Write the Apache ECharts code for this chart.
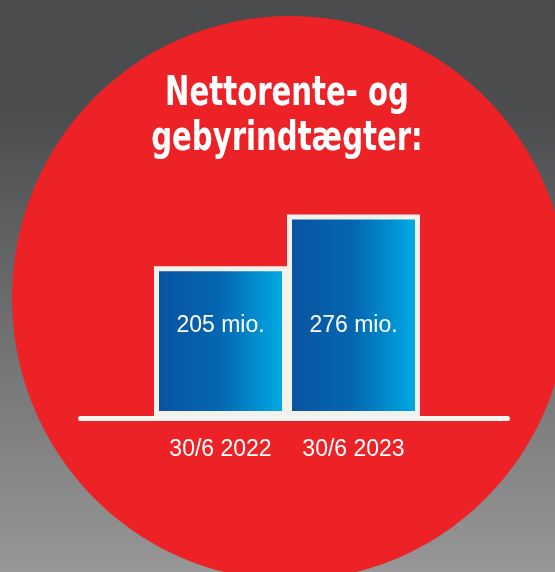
<!DOCTYPE html>
<html>
<head>
    <meta http-equiv="Content-Type" content="text/html; charset=UTF-8" />
    <script src="https://cdn.jsdelivr.net/npm/echarts@6/dist/echarts.min.js"></script>
    <style>
        html, body { margin: 0; padding: 0; }
        #chart { width: 555px; height: 572px; }
    </style>
</head>
<body>
    <div id="chart"></div>

    <script type="text/javascript">
        // data
        var titleText = 'Nettorente- og\ngebyrindtægter:';
        var periods = ['30/6 2022', '30/6 2023'];
        var incomeMio = [205, 276];
        var unit = ' mio.';

        var labelFont = '"Liberation Sans", Arial, sans-serif';
        var titleFont = '"DejaVu Sans Condensed", "DejaVu Sans", sans-serif';

        var chart = echarts.init(document.getElementById('chart'));

        var barFill = {
            type: 'linear', x: 0, y: 0, x2: 1, y2: 0,
            colorStops: [
                { offset: 0, color: '#0a52a0' },
                { offset: 0.5, color: '#0467b2' },
                { offset: 1, color: '#00aee8' }
            ]
        };

        var option = {
            backgroundColor: {
                type: 'linear', x: 0, y: 0, x2: 0, y2: 1,
                colorStops: [
                    { offset: 0, color: '#4a4b4d' },
                    { offset: 0.2, color: '#4c4d4f' },
                    { offset: 1, color: '#979797' }
                ]
            },
            graphic: [
                {
                    // red disc behind everything
                    type: 'ellipse',
                    z: -10,
                    silent: true,
                    shape: { cx: 290, cy: 298, rx: 278, ry: 282 },
                    style: { fill: '#ec2227' }
                },
                {
                    // condensed heading
                    type: 'text',
                    z: 10,
                    silent: true,
                    x: 287,
                    y: 72,
                    scaleX: 0.79,
                    style: {
                        text: titleText,
                        fill: '#ffffff',
                        font: 'bold 41px ' + titleFont,
                        lineHeight: 45,
                        textAlign: 'center',
                        textVerticalAlign: 'top'
                    }
                },
                {
                    // base line
                    type: 'line',
                    z: 100,
                    silent: true,
                    shape: { x1: 80.5, y1: 418.5, x2: 507.5, y2: 418.5 },
                    style: { stroke: '#f5f5f0', lineWidth: 5, lineCap: 'round' }
                }
            ],
            grid: {
                left: 154,
                right: 135,
                top: 197,
                bottom: 156
            },
            xAxis: {
                type: 'category',
                data: periods,
                axisLine: { show: false },
                axisTick: { show: false },
                axisLabel: {
                    interval: 0,
                    margin: 22,
                    color: '#ffffff',
                    fontFamily: labelFont,
                    fontSize: 23
                }
            },
            yAxis: {
                type: 'value',
                min: 0,
                max: 300,
                show: false,
                splitLine: { show: false }
            },
            series: [{
                type: 'bar',
                data: incomeMio,
                barWidth: '100%',
                itemStyle: {
                    color: barFill,
                    borderColor: '#f2f2ec',
                    borderWidth: 5
                },
                label: {
                    show: true,
                    position: 'insideBottom',
                    distance: 79,
                    color: '#ffffff',
                    fontFamily: labelFont,
                    fontSize: 23,
                    formatter: function (p) { return p.value + unit; }
                }
            }]
        };

        chart.setOption(option);
    </script>
</body>
</html>
